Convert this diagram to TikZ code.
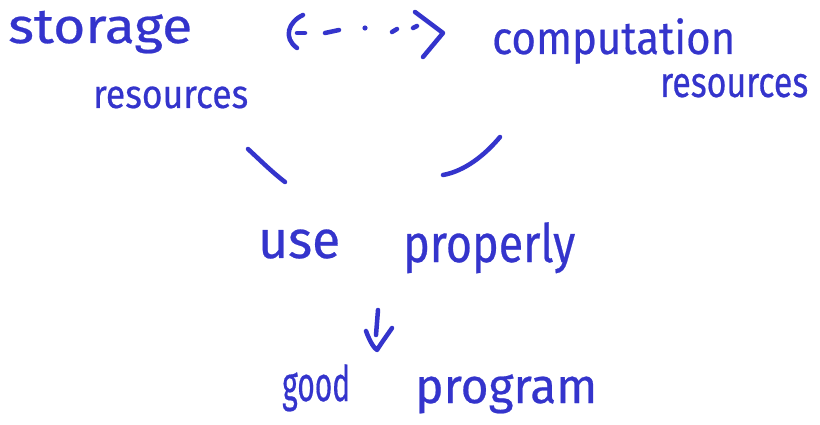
\documentclass[tikz,border=0pt]{standalone}
\usepackage{fontspec}
\setmainfont{Fira Sans}[FakeBold=0.5, BoldFont=Fira Sans]
\usepackage{graphicx}
\definecolor{ink}{RGB}{52,52,204}
% word set at a given size and stretched to a given width
\newcommand\handword[3]{\resizebox{#1pt}{\height}{\fontsize{#2pt}{#2pt}\selectfont\bfseries #3}}
\tikzset{
  word/.style={anchor=base west, inner sep=0pt, text=ink},
  pen/.style={draw=ink, line width=4.5pt, line cap=round, line join=round},
}
\begin{document}
\begin{tikzpicture}[x=1pt,y=-1pt]
\useasboundingbox[fill=white] (0,0) rectangle (820,425);

% words
\node[word] (storage)  at (8,43)   {\handword{184}{49}{storage}};
\node[word] (resL)     at (93,108) {\handword{155}{40}{resources}};
\node[word] (comp)     at (492,54) {\handword{243}{46}{computation}};
\node[word] (resR)     at (660,97) {\handword{148}{43}{resources}};
\node[word] (use)      at (258,258){\handword{82}{53}{use}};
\node[word] (properly) at (403,262){\handword{172}{53}{properly}};
\node[word] (good)     at (282,401){\handword{68}{49}{good}};
\node[word] (program)  at (415,403){\handword{182}{49}{program}};

% two-way dotted link between the two kinds of resources
\coordinate (linkL) at (285,32);
\coordinate (linkR) at (443,33);
\draw[pen] (303,15) .. controls (288,22) and (283,38) .. (297,48);
\draw[pen] (297,33) -- (305,33);
\draw[pen] (325,33) -- (339,30);
\fill[ink] (365,28) circle (2.6pt);
\draw[pen] (392,32) -- (397,29);
\draw[pen] (413,28) -- (417,26);
\draw[pen] (415,12) -- (linkR) -- (423,57);

% the two strokes joining at "use properly"
\draw[pen] (248,149) .. controls (262,162) and (272,172) .. (285,182);
\draw[pen] (443,175) .. controls (465,171) and (485,155) .. (500,137);

% arrow down to "good program"
\draw[pen] (378,310) -- (376,335);
\draw[pen] (366,331) .. controls (370,342) and (374,348) .. (377,350)
           .. controls (382,342) and (388,334) .. (392,328);
\end{tikzpicture}
\end{document}
